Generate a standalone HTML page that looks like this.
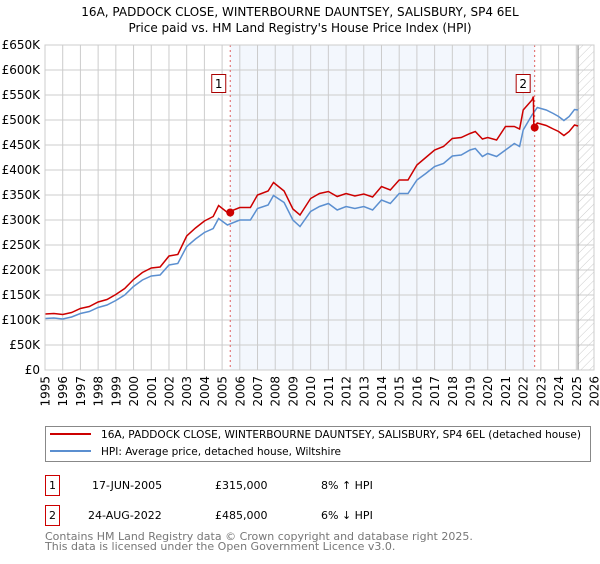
<!DOCTYPE html>
<html><head><meta charset="utf-8"><style>
body{margin:0;background:#fff;font-family:"DejaVu Sans","Liberation Sans",sans-serif;}
svg text{font-family:"DejaVu Sans","Liberation Sans",sans-serif;}
</style></head><body>
<svg id="chart" width="600" height="560" viewBox="0 0 600 560" xmlns="http://www.w3.org/2000/svg">
<defs><pattern id="hatch" width="6" height="6" patternUnits="userSpaceOnUse" patternTransform="rotate(45)"><line x1="0" y1="0" x2="0" y2="6" stroke="#ccc" stroke-width="1"/></pattern></defs>
<text x="300" y="16" text-anchor="middle" font-size="12" fill="#000">16A, PADDOCK CLOSE, WINTERBOURNE DAUNTSEY, SALISBURY, SP4 6EL</text>
<text x="300" y="32" text-anchor="middle" font-size="12" fill="#000">Price paid vs. HM Land Registry's House Price Index (HPI)</text>
<g id="plot"></g>
<g>
<rect x="45.5" y="426.5" width="545" height="35" fill="#fff" stroke="#888"/>
<line x1="50" y1="434" x2="91" y2="434" stroke="#cc0000" stroke-width="2"/>
<text x="101" y="438" font-size="11" textLength="480" lengthAdjust="spacingAndGlyphs">16A, PADDOCK CLOSE, WINTERBOURNE DAUNTSEY, SALISBURY, SP4 6EL (detached house)</text>
<line x1="50" y1="451" x2="91" y2="451" stroke="#5b8fd0" stroke-width="2"/>
<text x="101" y="455" font-size="11" textLength="240" lengthAdjust="spacingAndGlyphs">HPI: Average price, detached house, Wiltshire</text>
</g>
<g font-size="11">
<rect x="45.5" y="475.5" width="14" height="20" fill="#fff" stroke="#cc0000"/>
<text x="52.5" y="489" text-anchor="middle">1</text>
<text x="92" y="489">17-JUN-2005</text>
<text x="215" y="489">£315,000</text>
<text x="321" y="489">8% ↑ HPI</text>
<rect x="45.5" y="505.5" width="14" height="20" fill="#fff" stroke="#cc0000"/>
<text x="52.5" y="519" text-anchor="middle">2</text>
<text x="88" y="519">24-AUG-2022</text>
<text x="215" y="519">£485,000</text>
<text x="321" y="519">6% ↓ HPI</text>
</g>
<text x="45" y="540" font-size="11" fill="#777">Contains HM Land Registry data © Crown copyright and database right 2025.</text>
<text x="45" y="550" font-size="11" fill="#777">This data is licensed under the Open Government Licence v3.0.</text>
</svg>
<script>
const yTicks=[0,50,100,150,200,250,300,350,400,450,500,550,600,650];
const xTickYears=[1995,1996,1997,1998,1999,2000,2001,2002,2003,2004,2005,2006,2007,2008,2009,2010,2011,2012,2013,2014,2015,2016,2017,2018,2019,2020,2021,2022,2023,2024,2025,2026];
const hpiYears=[1995,1995.5,1996,1996.5,1997,1997.5,1998,1998.5,1999,1999.5,2000,2000.5,2001,2001.5,2002,2002.5,2003,2003.5,2004,2004.5,2004.8,2005.3,2006,2006.6,2007,2007.6,2007.9,2008.5,2009,2009.4,2010,2010.5,2011,2011.5,2012,2012.5,2013,2013.5,2014,2014.5,2015,2015.5,2016,2016.5,2017,2017.5,2018,2018.5,2019,2019.3,2019.7,2020,2020.5,2021,2021.5,2021.8,2022,2022.5,2022.8,2023.3,2023.7,2024,2024.3,2024.6,2024.9,2025.1];
const hpiValues=[103,104,102,106,113,117,125,130,139,150,167,180,188,190,210,213,247,262,275,283,303,290,300,300,323,330,349,335,300,287,317,327,333,320,327,323,327,320,340,333,353,353,380,393,407,413,428,430,440,443,427,433,427,440,453,447,480,510,525,520,513,507,499,507,521,520];
const priceYears=[1995,1995.5,1996,1996.5,1997,1997.5,1998,1998.5,1999,1999.5,2000,2000.5,2001,2001.5,2002,2002.5,2003,2003.5,2004,2004.5,2004.8,2005.3,2006,2006.6,2007,2007.6,2007.9,2008.5,2009,2009.4,2010,2010.5,2011,2011.5,2012,2012.5,2013,2013.5,2014,2014.5,2015,2015.5,2016,2016.5,2017,2017.5,2018,2018.5,2019,2019.3,2019.7,2020,2020.5,2021,2021.5,2021.8,2022,2022.5,2022.58,2022.6,2022.8,2023.3,2023.7,2024,2024.3,2024.6,2024.9,2025.1];
const priceValues=[112,113,111,115,123,127,136,141,151,163,181,195,204,206,228,231,268,284,298,307,329,315,325,325,350,358,375,358,322,310,343,353,357,347,353,348,352,346,367,360,380,380,410,425,440,447,463,465,473,477,462,465,460,487,487,482,520,540,547,485,494,489,482,477,469,477,490,488];
const saleYears=[2005.46,2022.65];
const saleValues=[315,485];
const saleLabels=["1","2"];
const NS="http://www.w3.org/2000/svg";
const L=45,R=594,T=45,B=370;
const xs=y=>L+(y-1995)*(R-L)/31;
const ys=v=>B-v*(B-T)/650;
const plot=document.getElementById('plot');
function mk(tag,attrs){const e=document.createElementNS(NS,tag);for(const k in attrs)e.setAttribute(k,attrs[k]);plot.appendChild(e);return e;}
let e;
e=mk('rect',{x:xs(saleYears[0]),y:T,width:xs(saleYears[1])-xs(saleYears[0]),height:B-T,fill:'#eef3fc',opacity:0.7});


e=mk('rect',{x:xs(2025.1),y:T,width:R-xs(2025.1),height:B-T,fill:'url(#hatch)'});


yTicks.forEach(v=>{
 e=mk('line',{x1:L,x2:R,y1:ys(v),y2:ys(v),stroke:'#ccc','stroke-width':1});
 
 
 e=mk('text',{x:L-5,y:ys(v)+4,'text-anchor':'end','font-size':12,fill:'#000'});
 e.textContent=v===0?'£0':'£'+v+'K';
 
 
});
xTickYears.forEach(yr=>{
 e=mk('line',{x1:xs(yr),x2:xs(yr),y1:T,y2:B,stroke:'#ccc','stroke-width':1});
 
 
 const tx=xs(yr)+4.5, ty=B+6;
 e=mk('text',{x:tx,y:ty,'text-anchor':'end','font-size':12,fill:'#000',transform:'rotate(-90 '+tx+' '+ty+')'});
 e.textContent=yr;
 
 
});
e=mk('line',{x1:xs(2025.1),x2:xs(2025.1),y1:T,y2:B,stroke:'#888','stroke-width':1});


saleYears.forEach((yr,i)=>{
 e=mk('line',{x1:xs(yr),x2:xs(yr),y1:T,y2:B,stroke:'#e06060','stroke-width':1,'stroke-dasharray':'2,3'});
 
 
});
function path(xa,va){return xa.map((x,i)=>(i?'L':'M')+xs(x).toFixed(1)+','+ys(va[i]).toFixed(1)).join('');}
e=mk('path',{d:path(hpiYears,hpiValues),fill:'none',stroke:'#5b8fd0','stroke-width':1.5});


e=mk('path',{d:path(priceYears,priceValues),fill:'none',stroke:'#cc0000','stroke-width':1.5});


saleYears.forEach((yr,i)=>{
 e=mk('circle',{cx:xs(yr),cy:ys(saleValues[i]),r:4,fill:'#cc0000'});
 
 
 const bx=xs(yr)-18;
 e=mk('rect',{x:bx-0.5,y:74.5,width:14,height:18,fill:'#fff',stroke:'#aa0000'});
 
 
 e=mk('text',{x:bx+6.5,y:88,'text-anchor':'middle','font-size':12,fill:'#000'});
 e.textContent=saleLabels[i];
 
 
});
e=mk('rect',{x:L,y:T,width:R-L,height:B-T,fill:'none',stroke:'#ccc'});


</script>
</body></html>
